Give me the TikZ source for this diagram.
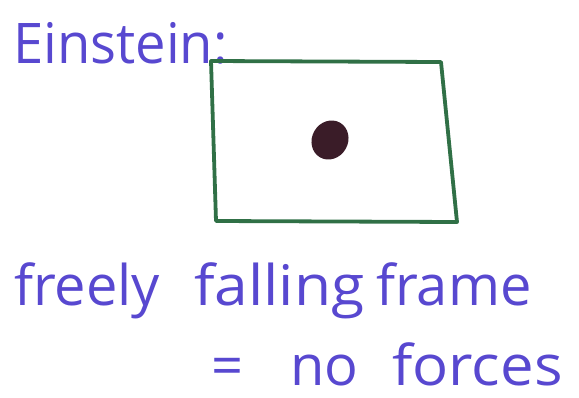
\documentclass[tikz,border=0pt]{standalone}
\usepackage{fontspec}
\setmainfont{Open Sans}
\definecolor{ink}{RGB}{88,72,208}
\definecolor{framegreen}{RGB}{48,112,70}
\definecolor{ball}{RGB}{58,28,40}
\tikzset{handtext/.style={anchor=base west, inner sep=0pt, text=ink, font=\fontsize{56}{60}\selectfont}}
\begin{document}
\begin{tikzpicture}[x=1pt, y=-1pt]
	% Paths, nodes and wires:
	\useasboundingbox (0, 0) rectangle (579, 397);
	\node[handtext, xscale=0.97, transform shape] (title) at (13, 63){Einstein:};
	\coordinate (tl) at (211, 61);
	\coordinate (tr) at (441, 62);
	\coordinate (br) at (457, 222);
	\coordinate (bl) at (216, 221);
	\draw[framegreen, line width=3.8pt, line join=round] (tl) -- (tr) -- (br) -- (bl) -- cycle;
	\fill[ball, rotate around={-30:(330, 140)}] (330, 140) ellipse [x radius=18, y radius=20];
	\node[handtext] (freely) at (14, 305){freely};
	\node[handtext, xscale=1.08, transform shape] (falling) at (194, 305){falling};
	\node[handtext] (frame) at (376, 305){frame};
	\node[handtext] (eq) at (211, 385){=};
	\node[handtext] (no) at (290, 385){no};
	\node[handtext, xscale=1.07, transform shape] (forces) at (392, 385){forces};
\end{tikzpicture}
\end{document}
